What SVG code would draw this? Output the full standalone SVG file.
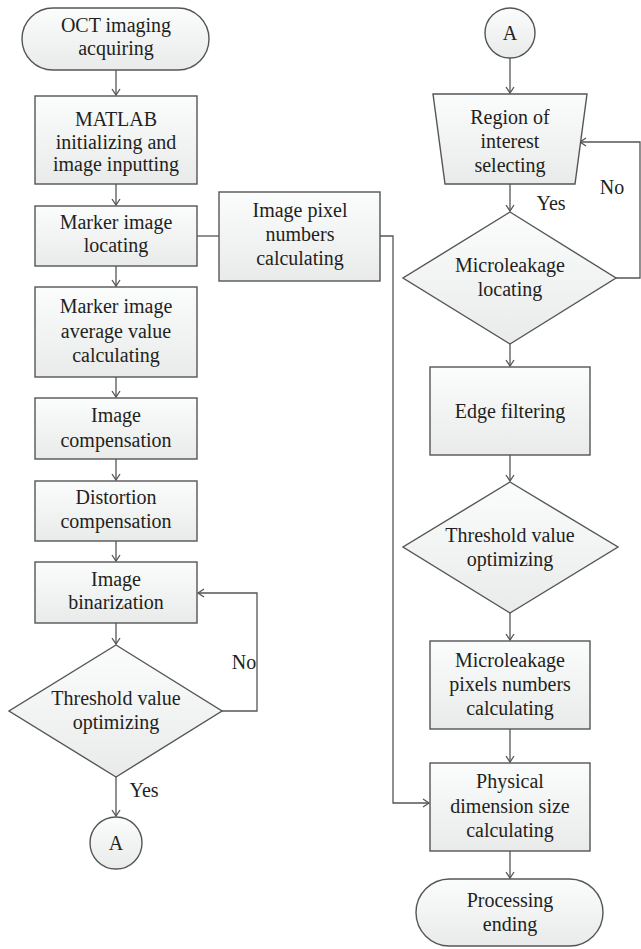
<svg xmlns="http://www.w3.org/2000/svg" width="641" height="949" viewBox="0 0 641 949">
<defs>
<linearGradient id="g" x1="0" y1="0" x2="0" y2="1">
<stop offset="0" stop-color="#fbfcfc"/>
<stop offset="1" stop-color="#e9ebeb"/>
</linearGradient>
<marker id="arr" markerUnits="userSpaceOnUse" markerWidth="12" markerHeight="12" refX="7" refY="5" orient="auto">
<path d="M1,1 L7,5 L1,9" fill="none" stroke="#555" stroke-width="1.3"/>
</marker>
</defs>
<style>
.s{fill:url(#g);stroke:#555;stroke-width:1.4}
.t{font-family:'Liberation Serif','DejaVu Serif','Times New Roman',serif;font-size:20px;fill:#231f20;text-anchor:middle}
.c{fill:none;stroke:#555;stroke-width:1.3}
</style>
<rect width="641" height="949" fill="#fff"/>
<g id="connectors">
<path class="c" d="M116,70 V95" marker-end="url(#arr)"/>
<path class="c" d="M116,184 V205" marker-end="url(#arr)"/>
<path class="c" d="M116,266 V286" marker-end="url(#arr)"/>
<path class="c" d="M116,377 V397" marker-end="url(#arr)"/>
<path class="c" d="M116,459 V480" marker-end="url(#arr)"/>
<path class="c" d="M116,541 V561" marker-end="url(#arr)"/>
<path class="c" d="M116,623 V644" marker-end="url(#arr)"/>
<path class="c" d="M222,711 H257 V593 H198" marker-end="url(#arr)"/>
<path class="c" d="M116,777 V816" marker-end="url(#arr)"/>
<path class="c" d="M197,236 H219"/>
<path class="c" d="M380,236 H393 V803 H429" marker-end="url(#arr)"/>
<path class="c" d="M510,58 V93" marker-end="url(#arr)"/>
<path class="c" d="M510,184 V211" marker-end="url(#arr)"/>
<path class="c" d="M616,278 H640 V142 H580" marker-end="url(#arr)"/>
<path class="c" d="M510,344 V366" marker-end="url(#arr)"/>
<path class="c" d="M510,455 V481" marker-end="url(#arr)"/>
<path class="c" d="M510,613 V640" marker-end="url(#arr)"/>
<path class="c" d="M510,729 V762" marker-end="url(#arr)"/>
<path class="c" d="M510,851 V878" marker-end="url(#arr)"/>
<text class="t" x="244" y="669">No</text>
<text class="t" x="144" y="797">Yes</text>
<text class="t" x="612" y="194">No</text>
<text class="t" x="551" y="210">Yes</text>
</g>
<g id="n1"><rect class="s" x="22" y="8" width="187" height="62" rx="31"/><text class="t" x="116" y="32">OCT imaging</text><text class="t" x="116" y="55">acquiring</text></g>
<g id="n2"><rect class="s" x="35" y="96" width="162" height="88"/><text class="t" x="116" y="126">MATLAB</text><text class="t" x="116" y="148.5">initializing and</text><text class="t" x="116" y="171">image inputting</text></g>
<g id="n3"><rect class="s" x="35" y="206" width="162" height="60"/><text class="t" x="116" y="229">Marker image</text><text class="t" x="116" y="252">locating</text></g>
<g id="n4"><rect class="s" x="35" y="287" width="162" height="90"/><text class="t" x="116" y="313">Marker image</text><text class="t" x="116" y="338">average value</text><text class="t" x="116" y="362">calculating</text></g>
<g id="n5"><rect class="s" x="35" y="398" width="162" height="61"/><text class="t" x="116" y="422">Image</text><text class="t" x="116" y="447">compensation</text></g>
<g id="n6"><rect class="s" x="35" y="481" width="162" height="60"/><text class="t" x="116" y="504">Distortion</text><text class="t" x="116" y="528">compensation</text></g>
<g id="n7"><rect class="s" x="35" y="562" width="162" height="61"/><text class="t" x="116" y="586">Image</text><text class="t" x="116" y="609">binarization</text></g>
<g id="n8"><polygon class="s" points="116,645 222,711 116,777 9,711"/><text class="t" x="116" y="705">Threshold value</text><text class="t" x="116" y="729">optimizing</text></g>
<g id="n9"><circle class="s" cx="116" cy="843" r="26"/><text class="t" x="116" y="850">A</text></g>
<g id="n10"><rect class="s" x="219" y="192" width="161" height="89"/><text class="t" x="300" y="217">Image pixel</text><text class="t" x="300" y="241">numbers</text><text class="t" x="300" y="265">calculating</text></g>
<g id="n11"><circle class="s" cx="510" cy="33" r="25"/><text class="t" x="510" y="40">A</text></g>
<g id="n12"><polygon class="s" points="433,94 587,94 575,184 445,184"/><text class="t" x="510" y="124">Region of</text><text class="t" x="510" y="148">interest</text><text class="t" x="510" y="172">selecting</text></g>
<g id="n13"><polygon class="s" points="510,212 616,278 510,344 403,278"/><text class="t" x="510" y="272">Microleakage</text><text class="t" x="510" y="296">locating</text></g>
<g id="n14"><rect class="s" x="430" y="367" width="160" height="88"/><text class="t" x="510" y="418">Edge filtering</text></g>
<g id="n15"><polygon class="s" points="510,482 618,547 510,613 403,547"/><text class="t" x="510" y="542">Threshold value</text><text class="t" x="510" y="566">optimizing</text></g>
<g id="n16"><rect class="s" x="430" y="641" width="160" height="88"/><text class="t" x="510" y="667">Microleakage</text><text class="t" x="510" y="691">pixels numbers</text><text class="t" x="510" y="715">calculating</text></g>
<g id="n17"><rect class="s" x="430" y="763" width="160" height="88"/><text class="t" x="510" y="788">Physical</text><text class="t" x="510" y="813">dimension size</text><text class="t" x="510" y="837">calculating</text></g>
<g id="n18"><rect class="s" x="416" y="879" width="187" height="67" rx="33.5"/><text class="t" x="510" y="907">Processing</text><text class="t" x="510" y="931">ending</text></g>
</svg>
